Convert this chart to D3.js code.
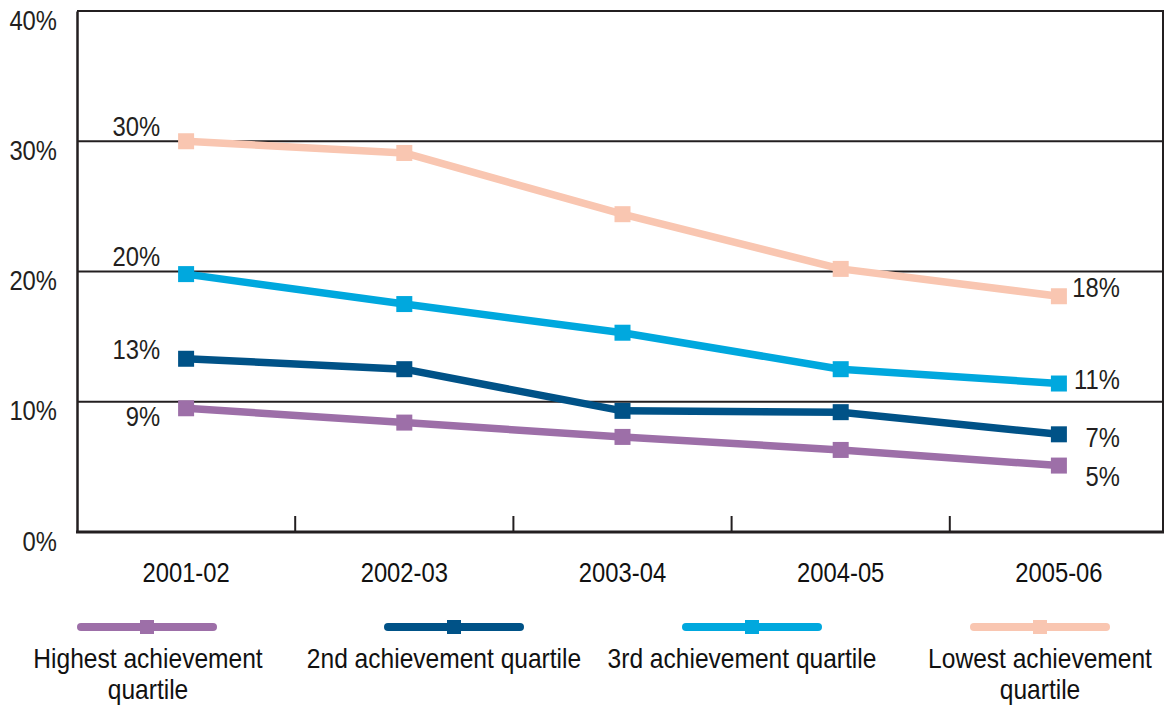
<!DOCTYPE html>
<html>
<head>
<meta charset="utf-8">
<script src="https://cdn.jsdelivr.net/npm/d3@7"></script>
<style>
  html, body { margin: 0; padding: 0; background: #fff; }
  svg { display: block; font-family: "Liberation Sans", Arial, sans-serif; }
</style>
</head>
<body>
<svg id="chart" width="1166" height="706"></svg>
<script>
// ---- data ----
const years = ["2001-02", "2002-03", "2003-04", "2004-05", "2005-06"];
const seriesNames = ["Highest achievement quartile", "2nd achievement quartile", "3rd achievement quartile", "Lowest achievement quartile"];
const highest = [9.5, 8.4, 7.3, 6.3, 5.1];
const second  = [13.3, 12.5, 9.3, 9.2, 7.5];
const third   = [19.8, 17.5, 15.3, 12.5, 11.4];
const lowest  = [30.0, 29.1, 24.4, 20.2, 18.1];
const startLabels = ["9%", "13%", "20%", "30%"];
const endLabels   = ["5%", "7%", "11%", "18%"];
const yTicks = [0, 10, 20, 30, 40];
const legendLines = [["Highest achievement", "quartile"], ["2nd achievement quartile"], ["3rd achievement quartile"], ["Lowest achievement", "quartile"]];

// ---- style / layout ----
const colors = ["#9d6fa8", "#005287", "#00a8de", "#f9c6b1"];
const startLabelBaseline = [18, 0, -8, -5];   // baseline offset from point (px)
const endLabelBaseline = [20, 13, 5, 1];
const legendCX = [147, 454, 752, 1040];
const legendTextDX = [1, -10, -10, 0];
const axisColor = "#231f20";
const SX = 0.85; // horizontal condensing to mimic a narrow face

(function () {
const svg = d3.select("#chart");
const mLeft = 77, mRight = 1163, mTop = 11, mBottom = 532;

const x = d3.scaleBand().domain(years).range([mLeft, 1168]);
const y = d3.scaleLinear().domain([0, 40]).range([mBottom, mTop]);
const cx = d => x(d) + x.bandwidth() / 2;

function label(parent, tx, ty, txt, anchor, size, fill, sx) {
  return parent.append("text")
    .attr("transform", `translate(${tx},${ty}) scale(${sx || SX},1)`)
    .attr("text-anchor", anchor).attr("font-size", size).attr("fill", fill || "#231f20")
    .text(txt);
}

const series = [highest, second, third, lowest].map((vals, i) => ({
  name: seriesNames[i], color: colors[i],
  points: years.map((yr, j) => ({ year: yr, v: vals[j] }))
}));

// gridlines + frame
const g = svg.append("g");
g.selectAll("line.grid").data(yTicks.filter(t => t > 0)).join("line")
  .attr("x1", mLeft).attr("x2", mRight)
  .attr("y1", d => y(d)).attr("y2", d => y(d))
  .attr("stroke", axisColor).attr("stroke-width", 2);
g.append("line").attr("x1", mRight).attr("x2", mRight).attr("y1", y(40) - 1).attr("y2", mBottom + 1)
  .attr("stroke", axisColor).attr("stroke-width", 2);

// y axis
const yAxis = d3.axisLeft(y).tickValues(yTicks).tickFormat(d => d + "%").tickSize(0).tickPadding(20);
const ya = svg.append("g").attr("transform", `translate(${mLeft},0)`).call(yAxis);
ya.select(".domain").attr("stroke", axisColor).attr("stroke-width", 2.5);
ya.selectAll(".tick text").attr("font-size", 28).attr("fill", "#231f20")
  .attr("font-family", "inherit").attr("dy", null)
  .attr("x", null).attr("y", null)
  .attr("transform", `translate(-20,18) scale(${SX},1)`);

// x axis (ticks inside, pointing up at band boundaries)
const xa = svg.append("g").attr("transform", `translate(0,${mBottom})`);
xa.append("line").attr("x1", mLeft - 1).attr("x2", mRight + 1).attr("y1", 0).attr("y2", 0)
  .attr("stroke", axisColor).attr("stroke-width", 3);
xa.selectAll("line.tick").data(years.slice(1)).join("line")
  .attr("x1", d => x(d)).attr("x2", d => x(d)).attr("y1", 0).attr("y2", -16)
  .attr("stroke", axisColor).attr("stroke-width", 2);
years.forEach(yr => label(xa, cx(yr), 50, yr, "middle", 28, "#111"));

// lines
const line = d3.line().x(d => cx(d.year)).y(d => y(d.v));
const sg = svg.selectAll("g.series").data(series).join("g");
sg.append("path").attr("d", d => line(d.points))
  .attr("fill", "none").attr("stroke", d => d.color).attr("stroke-width", 7.5).attr("stroke-linejoin", "round");
sg.selectAll("rect").data(d => d.points.map(p => ({ ...p, color: d.color }))).join("rect")
  .attr("x", d => cx(d.year) - 8).attr("y", d => y(d.v) - 8)
  .attr("width", 16).attr("height", 16).attr("fill", d => d.color);

// value labels
series.forEach((s, i) => {
  const p0 = s.points[0], pn = s.points[s.points.length - 1];
  label(svg, cx(p0.year) - 26, y(p0.v) + startLabelBaseline[i], startLabels[i], "end", 28);
  label(svg, cx(pn.year) + 61, y(pn.v) + endLabelBaseline[i], endLabels[i], "end", 28);
});

// legend
const lg = svg.selectAll("g.legend").data(series).join("g")
  .attr("transform", (d, i) => `translate(${legendCX[i]},627)`);
lg.append("line").attr("x1", -66).attr("x2", 66).attr("y1", 0).attr("y2", 0)
  .attr("stroke", d => d.color).attr("stroke-width", 8).attr("stroke-linecap", "round");
lg.append("rect").attr("x", -7).attr("y", -7).attr("width", 14).attr("height", 14).attr("fill", d => d.color);
lg.each(function(d, i) {
  const gi = d3.select(this);
  legendLines[i].forEach((ln, k) => {
    label(gi, legendTextDX[i], 41 + k * 31, ln, "middle", 27, "#111", 0.91);
  });
});
})();
</script>
</body>
</html>
